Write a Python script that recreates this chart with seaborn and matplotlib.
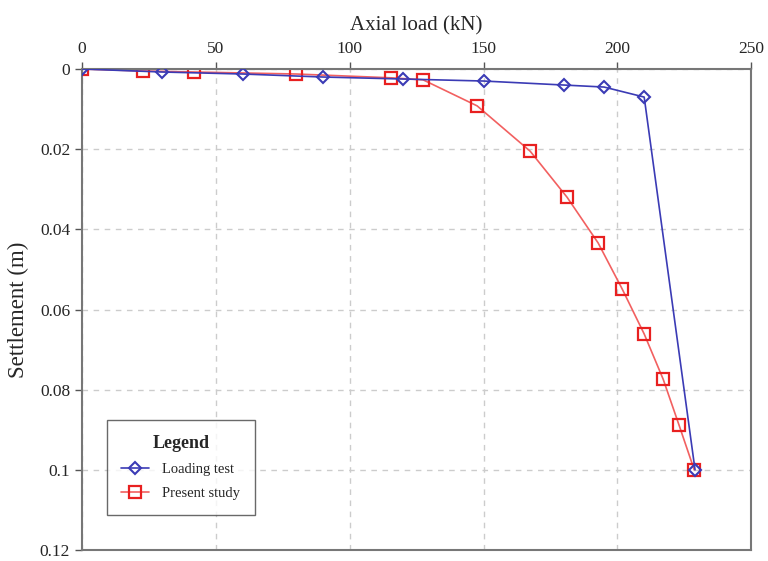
import numpy as np
import pandas as pd
import matplotlib
matplotlib.use("Agg")
import matplotlib.pyplot as plt
import seaborn as sns

# Loading test (blue diamonds)
test_load = [0, 30, 60, 90, 120, 150, 180, 195, 210, 229]
test_settle = [0, 0.00075, 0.00125, 0.002, 0.0025, 0.003, 0.004, 0.0045, 0.007, 0.1]

# Present study (red squares)
study_load = [0, 22.8, 42, 80, 115.5, 127.4, 147.6, 167.4, 181.2, 192.8, 201.8, 210, 217.1, 223, 228.7]
study_settle = [0, 0.0005, 0.00075, 0.00125, 0.0022, 0.0027, 0.0092, 0.0205, 0.032,
                0.0434, 0.0549, 0.0661, 0.0774, 0.0888, 0.1]

sns.set_style("white")
plt.rcParams['font.family'] = ['Liberation Serif', 'DejaVu Serif']

fig = plt.figure(figsize=(7.68, 5.61), dpi=100)
ax = fig.add_axes([0.1068, 0.0196, 0.8714, 0.8574])

df_test = pd.DataFrame({"load": test_load, "settle": test_settle})
df_study = pd.DataFrame({"load": study_load, "settle": study_settle})

sns.lineplot(data=df_test, x="load", y="settle", ax=ax, color="#3b3bb5", lw=1.2,
             marker="D", markersize=6, markerfacecolor="none", markeredgecolor="#3b3bb5",
             markeredgewidth=1.5, label="Loading test", zorder=3, sort=False)
sns.lineplot(data=df_study, x="load", y="settle", ax=ax, color="#f26060", lw=1.2,
             marker="s", markersize=8, markerfacecolor="none", markeredgecolor="#e82020",
             markeredgewidth=1.6, label="Present study", zorder=2, sort=False)

ax.set_xlim(0, 250)
ax.set_ylim(0.12, 0)
ax.set_xticks([0, 50, 100, 150, 200, 250])
ax.set_yticks([0, 0.02, 0.04, 0.06, 0.08, 0.1, 0.12])
ax.set_yticklabels(["0", "0.02", "0.04", "0.06", "0.08", "0.1", "0.12"])
ax.xaxis.tick_top()
ax.xaxis.set_label_position("top")
ax.set_xlabel("Axial load (kN)", fontsize=15, labelpad=8)
ax.set_ylabel("Settlement (m)", fontsize=16.5, labelpad=8)
ax.tick_params(axis="both", labelsize=12.5, direction="out", length=5, color="#555555",
               width=1, left=True, top=True)
ax.grid(True, linestyle=(0, (4, 4)), color="#cccccc", lw=1)
for s in ax.spines.values():
    s.set_color("#777777")
    s.set_linewidth(1.5)

leg = ax.legend(loc="lower left", bbox_to_anchor=(0.037, 0.073), title="Legend",
                fontsize=10.5, title_fontproperties={"weight": "bold", "size": 13},
                frameon=True, fancybox=False, edgecolor="#444444", borderpad=1.0,
                handlelength=1.9, handletextpad=0.9, labelspacing=0.75, borderaxespad=0)
leg.get_frame().set_linewidth(1)
leg._legend_box.sep = 8

fig.savefig("out.png", dpi=100)
